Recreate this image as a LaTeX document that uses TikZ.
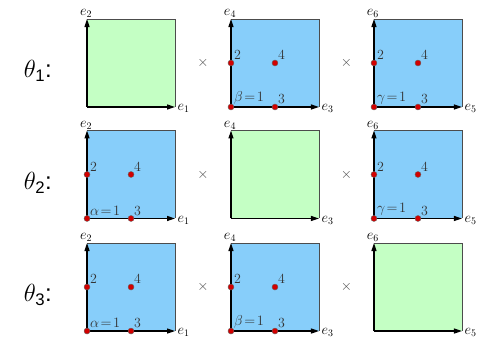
\documentclass[tikz,border=0pt]{standalone}
\usepackage{amsmath}
\usepackage{fontspec}
\setsansfont{Liberation Sans}
\usetikzlibrary{arrows.meta}

\definecolor{boxgreen}{RGB}{196,255,196}
\definecolor{boxblue}{RGB}{135,206,250}
\definecolor{dotred}{RGB}{210,0,0}

\tikzset{
    axis/.style={line width=1.2bp, -{Triangle[length=8bp,width=5bp]}},
    frame/.style={draw=black!70, line width=0.8bp},
    gridpt/.style={circle, fill=dotred, draw=black!60, line width=0.4bp, inner sep=0pt, minimum size=6bp},
    ptlabel/.style={anchor=south west, inner sep=0.6bp, text=black!80},
    thetalabel/.style={font=\sffamily\fontsize{24}{26}\selectfont, anchor=base},
}

\begin{document}
\begin{tikzpicture}[x=88bp, y=88bp, font=\fontsize{14}{16}\selectfont]
    \useasboundingbox (0,0) rectangle (5.489,3.830);
    % one row per theta, one square per factor
    \foreach \r/\y/\g in {1/2.614/1, 2/1.347/2, 3/0.068/3} {
        \node[thetalabel] (theta\r) at (0.43,\y+0.33) {$\theta_{\text{\r}}$:};
        \foreach \c/\x/\u in {1/0.989/\alpha, 2/2.625/\beta, 3/4.25/\gamma} {
            \pgfmathtruncatemacro{\ea}{2*\c-1}
            \pgfmathtruncatemacro{\eb}{2*\c}
            \ifnum\c=\g
                \fill[boxgreen] (\x,\y) rectangle ++(1,1);
            \else
                \fill[boxblue] (\x,\y) rectangle ++(1,1);
            \fi
            \draw[frame] (\x,\y+1) -- (\x+1,\y+1) -- (\x+1,\y);
            \draw[axis] (\x,\y) -- (\x,\y+1) node[anchor=south, inner sep=0.5bp, xshift=-1bp] (e\r\eb) {$e_{\eb}$};
            \draw[axis] (\x,\y) -- (\x+1,\y) node[anchor=west, inner sep=2bp, yshift=-1.5bp] (e\r\ea) {$e_{\ea}$};
            \ifnum\c=\g\else
                \node[gridpt] (p\r\c a) at (\x,\y) {};
                \node[gridpt] (p\r\c b) at (\x,\y+0.5) {};
                \node[gridpt] (p\r\c c) at (\x+0.5,\y) {};
                \node[gridpt] (p\r\c d) at (\x+0.5,\y+0.5) {};
                \node[ptlabel] at (p\r\c a.north east) {$\u\!=\!1$};
                \node[ptlabel] at (p\r\c b.north east) {2};
                \node[ptlabel] at (p\r\c c.north east) {3};
                \node[ptlabel] at (p\r\c d.north east) {4};
            \fi
        }
        \node[text=black!70] (times\r a) at (2.307,\y+0.5) {$\times$};
        \node[text=black!70] (times\r b) at (3.937,\y+0.5) {$\times$};
    }
\end{tikzpicture}
\end{document}
